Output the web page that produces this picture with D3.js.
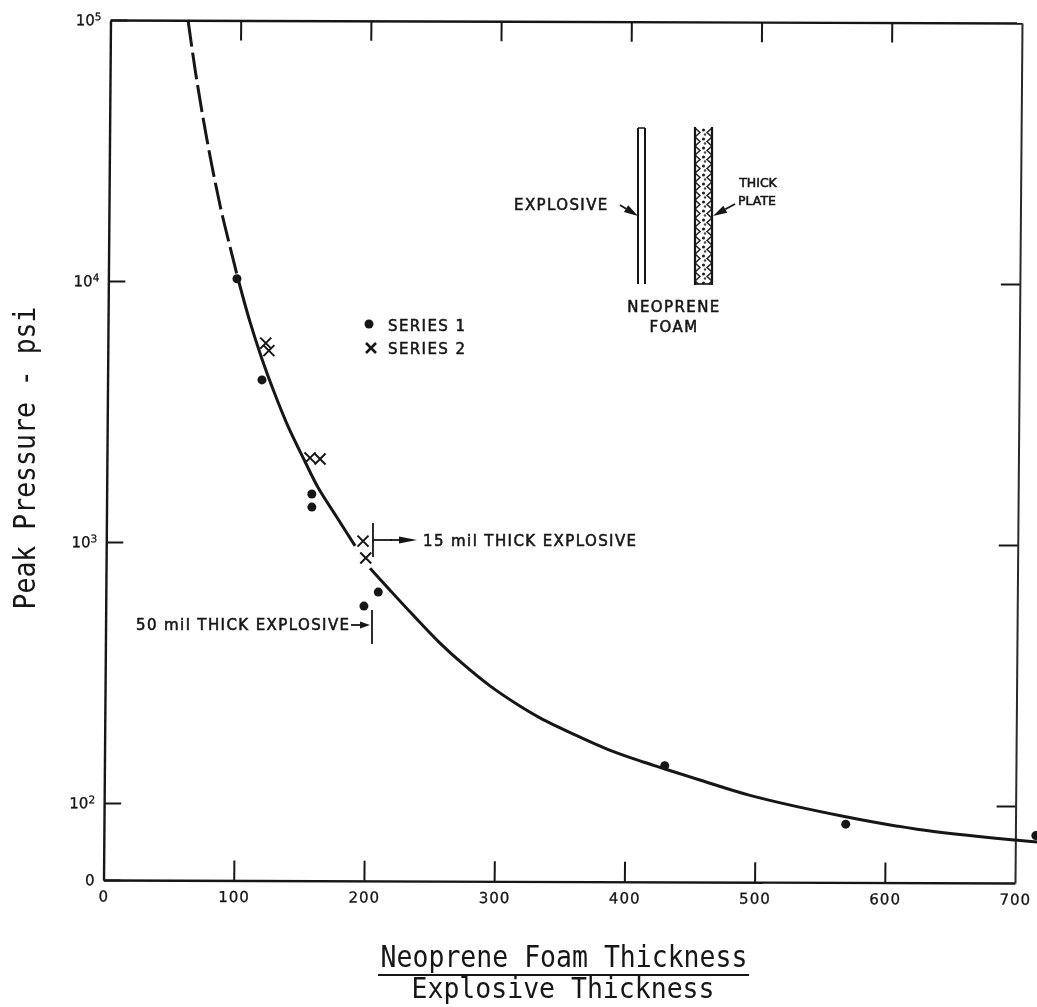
<!DOCTYPE html>
<html>
<head>
<meta charset="utf-8">
<script src="https://cdn.jsdelivr.net/npm/d3@7"></script>
<style>
	html, body { margin: 0; padding: 0; background: #fff; overflow: hidden; }
	text { fill: #161616; }
	.plot-text { font-family: "DejaVu Sans", sans-serif; stroke: #161616; stroke-width: 0.3px; }
	.note { font-family: "DejaVu Sans", sans-serif; font-size: 15px; letter-spacing: 1.4px; stroke: #161616; stroke-width: 0.55px; }
	.note-small { font-family: "DejaVu Sans", sans-serif; font-size: 12.5px; stroke: #161616; stroke-width: 0.55px; }
	.title { font-family: "DejaVu Sans Mono", monospace; font-size: 26.5px; }
</style>
</head>
<body>
<script>
	var width = 1037;
	var height = 1007;

	// values
	var xTicks = [0, 100, 200, 300, 400, 500, 600, 700];
	var innerXTicks = [100, 200, 300, 400, 500, 600];
	var yTicks = [100, 1000, 10000, 100000];
	var yTickPowers = ['2', '3', '4', '5'];
	var yFloor = 50.7; // the axis is labelled 0 here

	var series1X = [102.5, 121.7, 160, 160, 200, 211, 431, 570, 716];
	var series1Y = [10200, 4180, 1528, 1361, 568, 643, 139, 83, 75];
	var series2X = [124.6, 127, 158.6, 166.3, 199.3, 201.4];
	var series2Y = [5780, 5410, 2100, 2080, 1008, 869];

	var dashedX = [64.9, 71, 79.5, 89.5, 97.2, 103.3];
	var dashedY = [100000, 61500, 34700, 19500, 13500, 10200];
	var upperX = [103.3, 112.5, 121.5, 130.4, 140.7, 154.8, 165, 179.1, 193.2];
	var upperY = [10200, 6970, 5060, 3820, 2850, 2030, 1610, 1247, 966];
	var lowerX = [204.7, 220, 237.7, 258.4, 276, 296.8, 317.6, 335.2, 360.5, 386.7, 412, 431.2, 458, 496.5, 568, 624.8, 700, 717];
	var lowerY = [794, 654, 525, 410, 341, 281, 239, 212, 184, 161, 145, 135, 122.5, 107, 89, 79.4, 72.1, 70.9];

	var x = d3.scaleLinear().domain([0, 700]).range([103.5, 1015]);
	var y = d3.scaleLog().domain([yFloor, 100000]).range([880, 20]);

	var svg = d3.select('body').append('svg')
		.attr('width', width)
		.attr('height', height)
		.style('display', 'block');

	// scan softness
	var defs = svg.append('defs');
	defs.append('filter')
		.attr('id', 'scan')
		.attr('x', 0).attr('y', 0)
		.attr('width', 1).attr('height', 1)
		.append('feGaussianBlur')
		.attr('stdDeviation', 0.5);

	// foam pattern for the plate
	var foam = defs.append('pattern')
		.attr('id', 'foam')
		.attr('patternUnits', 'userSpaceOnUse')
		.attr('x', 695)
		.attr('y', 128)
		.attr('width', 17)
		.attr('height', 9);
	foam.append('path')
		.attr('d', 'M0,0L5,4.5L0,9M17,0L12,4.5L17,9')
		.attr('fill', 'none')
		.attr('stroke', '#222')
		.attr('stroke-width', 1.5);
	foam.append('circle')
		.attr('cx', 8.5).attr('cy', 2).attr('r', 1.6)
		.attr('fill', '#222');
	foam.append('circle')
		.attr('cx', 10).attr('cy', 6.5).attr('r', 1.2)
		.attr('fill', '#444');

	var root = svg.append('g')
		.attr('filter', 'url(#scan)');
	root.append('rect')
		.attr('width', width)
		.attr('height', height)
		.attr('fill', '#fff');

	// the page was scanned crooked, so the frame leans and turns by a few pixels
	var frame = root.append('g')
		.attr('transform', 'matrix(1,0.0033,-0.00814,1,7.163,-0.343)');

	function styleAxis(g) {
		g.select('.domain').attr('stroke', '#161616').attr('stroke-width', 2.4);
		g.selectAll('.tick line').attr('stroke', '#161616').attr('stroke-width', 2);
		g.selectAll('.tick text').attr('class', 'plot-text').attr('fill', '#161616');
	}

	var bottomAxis = d3.axisBottom(x)
		.tickValues(xTicks)
		.tickSizeInner(-20)
		.tickSizeOuter(0)
		.tickPadding(11)
		.tickFormat(d3.format('d'));
	var gBottom = frame.append('g')
		.attr('transform', 'translate(0,880)')
		.call(bottomAxis)
		.call(styleAxis);
	gBottom.selectAll('.tick text')
		.attr('font-size', 15)
		.style('letter-spacing', '1px');
	gBottom.selectAll('.tick')
		.filter(function(d) { return d === 0 || d === 700; })
		.select('line').remove();

	var topAxis = d3.axisTop(x)
		.tickValues(innerXTicks)
		.tickSizeInner(-20)
		.tickSizeOuter(0)
		.tickFormat('');
	frame.append('g')
		.attr('transform', 'translate(0,20)')
		.call(topAxis)
		.call(styleAxis);

	var leftAxis = d3.axisLeft(y)
		.tickValues([yFloor].concat(yTicks))
		.tickSizeInner(-17)
		.tickSizeOuter(0)
		.tickPadding(9)
		.tickFormat('');
	var gLeft = frame.append('g')
		.attr('transform', 'translate(' + x(0) + ',0)')
		.call(leftAxis)
		.call(styleAxis);
	gLeft.selectAll('.tick text')
		.attr('font-size', 15)
		.each(function(d) {
			var t = d3.select(this);
			if (d === yFloor) { t.text('0'); return; }
			t.text('10');
			t.append('tspan')
				.attr('dy', -5)
				.attr('font-size', 10.5)
				.text(yTickPowers[yTicks.indexOf(d)]);
		});

	var rightAxis = d3.axisRight(y)
		.tickValues(yTicks.slice(0, 3))
		.tickSizeInner(-19)
		.tickSizeOuter(0)
		.tickFormat('');
	var gRight = frame.append('g')
		.attr('transform', 'translate(' + x(700) + ',0)')
		.call(rightAxis)
		.call(styleAxis);
	gRight.select('.domain').attr('stroke', '#2a2a2a').attr('stroke-width', 2);

	// fitted curve
	var line = d3.line()
		.x(function(d) { return x(d[0]); })
		.y(function(d) { return y(d[1]); })
		.curve(d3.curveCatmullRom);

	function drawCurve(xs, ys, dash) {
		root.append('path')
			.datum(d3.zip(xs, ys))
			.attr('d', line)
			.attr('fill', 'none')
			.attr('stroke', '#161616')
			.attr('stroke-width', 3)
			.attr('stroke-dasharray', dash);
	}
	drawCurve(dashedX, dashedY, '27,6');
	drawCurve(upperX, upperY, null);
	drawCurve(lowerX, lowerY, null);

	// data points
	root.append('g').selectAll('circle')
		.data(d3.zip(series1X, series1Y))
		.join('circle')
		.attr('cx', function(d) { return x(d[0]); })
		.attr('cy', function(d) { return y(d[1]); })
		.attr('r', 4.5)
		.attr('fill', '#161616');

	function crossPath(cx, cy, r) {
		return 'M' + (cx - r) + ',' + (cy - r) + 'L' + (cx + r) + ',' + (cy + r) +
			'M' + (cx + r) + ',' + (cy - r) + 'L' + (cx - r) + ',' + (cy + r);
	}
	root.append('g').selectAll('path')
		.data(d3.zip(series2X, series2Y))
		.join('path')
		.attr('d', function(d) { return crossPath(x(d[0]), y(d[1]), 5.5); })
		.attr('fill', 'none')
		.attr('stroke', '#161616')
		.attr('stroke-width', 2);

	// legend
	root.append('circle').attr('cx', 369).attr('cy', 324).attr('r', 4.5).attr('fill', '#161616');
	root.append('path')
		.attr('d', crossPath(371, 348, 5))
		.attr('fill', 'none').attr('stroke', '#161616').attr('stroke-width', 2.6);

	function note(tx, ty, label, anchor, cls) {
		root.append('text')
			.attr('class', cls || 'note')
			.attr('x', tx)
			.attr('y', ty)
			.attr('text-anchor', anchor || 'start')
			.text(label);
	}
	note(388, 331, 'SERIES 1');
	note(388, 354, 'SERIES 2');

	// straight line with a filled head at the far end
	function arrow(x1, y1, x2, y2, headLen, hw) {
		var a = Math.atan2(y2 - y1, x2 - x1);
		var bx = x2 - headLen * Math.cos(a);
		var by = y2 - headLen * Math.sin(a);
		root.append('line')
			.attr('x1', x1).attr('y1', y1).attr('x2', bx).attr('y2', by)
			.attr('stroke', '#161616').attr('stroke-width', 1.8);
		root.append('path')
			.attr('d', 'M' + x2 + ',' + y2 +
				'L' + (bx - hw * Math.sin(a)) + ',' + (by + hw * Math.cos(a)) +
				'L' + (bx + hw * Math.sin(a)) + ',' + (by - hw * Math.cos(a)) + 'Z')
			.attr('fill', '#161616');
	}
	function rule(x1, y1, x2, y2, w) {
		root.append('line')
			.attr('x1', x1).attr('y1', y1).attr('x2', x2).attr('y2', y2)
			.attr('stroke', '#161616').attr('stroke-width', w);
	}

	// thickness brackets
	rule(373, 523, 373, 557, 1.8);
	rule(373, 540, 392, 540, 1.8);
	arrow(390, 540, 417, 540, 18, 3.5);
	note(423, 546, '15 mil THICK EXPLOSIVE');
	rule(372, 610, 372, 644, 1.8);
	arrow(351, 625, 370, 625, 10, 3.5);
	note(136, 630, '50 mil THICK EXPLOSIVE');

	// sketch of the test set-up
	rule(638, 128, 638, 284, 2);
	rule(645, 128, 645, 284, 2);
	rule(638, 128, 645, 128, 1.5);
	root.append('rect')
		.attr('x', 695).attr('y', 128)
		.attr('width', 17).attr('height', 156)
		.attr('fill', 'url(#foam)');
	rule(695, 127, 695, 285, 2.2);
	rule(712, 127, 712, 285, 2.2);
	rule(695, 284, 712, 284, 1.6);
	arrow(620, 205, 638, 216, 14, 4);
	arrow(735, 204, 713, 216, 14, 4);
	note(514, 210, 'EXPLOSIVE');
	note(758, 187, 'THICK', 'middle', 'note-small');
	note(757, 205, 'PLATE', 'middle', 'note-small');
	note(674, 312, 'NEOPRENE', 'middle');
	note(674, 332, 'FOAM', 'middle');

	// axis titles, the typewriter face is taller than the mono font here
	root.append('text')
		.attr('class', 'title')
		.attr('transform', 'translate(35,458) rotate(-90) scale(1,1.15)')
		.attr('text-anchor', 'middle')
		.text('Peak Pressure - psi');
	root.append('text')
		.attr('class', 'title')
		.attr('transform', 'translate(564,967) scale(1,1.15)')
		.attr('text-anchor', 'middle')
		.text('Neoprene Foam Thickness');
	rule(378, 975, 749, 975, 2);
	root.append('text')
		.attr('class', 'title')
		.attr('transform', 'translate(563,998) scale(1,1.05)')
		.attr('text-anchor', 'middle')
		.text('Explosive Thickness');
</script>
</body>
</html>
